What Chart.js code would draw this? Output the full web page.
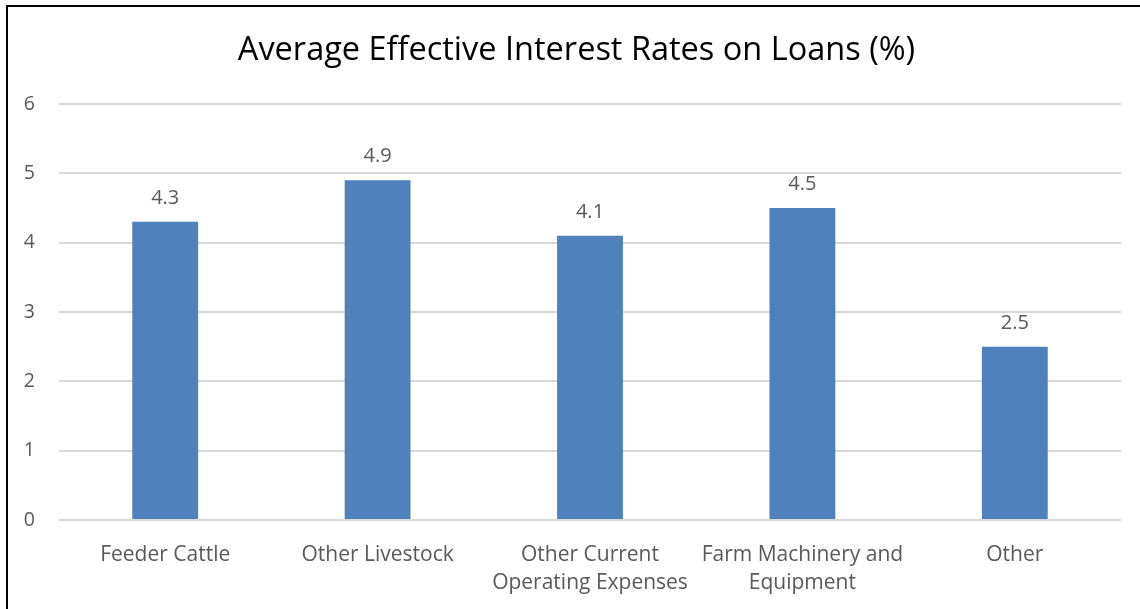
<!DOCTYPE html>
<html>
<head>
<meta charset="utf-8">
<script src="https://cdn.jsdelivr.net/npm/chart.js@4/dist/chart.umd.min.js"></script>
<style>
  html, body { margin: 0; padding: 0; background: #fff; overflow: hidden; width: 1140px; height: 609px; }
  #frame {
    position: absolute; left: 6px; top: 5px; width: 1400px; height: 800px;
    border-left: 2px solid #000; border-top: 2px solid #000;
  }
  #wrap { position: absolute; left: 0; top: 0; width: 1140px; height: 609px; }
</style>
</head>
<body>
<div id="frame"></div>
<div id="wrap"><canvas id="rateChart" width="1140" height="609"></canvas></div>
<script>
// data
const chartTitle = 'Average Effective Interest Rates on Loans (%)';
const categories = [
    'Feeder Cattle',
    'Other Livestock',
    ['Other Current', 'Operating Expenses'],
    ['Farm Machinery and', 'Equipment'],
    'Other'
];
const rateValues = [4.3, 4.9, 4.1, 4.5, 2.5];
const yTicks = [0, 1, 2, 3, 4, 5, 6];

const FONT = '"Open Sans", sans-serif';
const TEXT_GRAY = '#595959';

// title is centred on the whole chart frame (not just the canvas box),
// so it is drawn here instead of through the title plugin
const frameTitle = {
    id: 'frameTitle',
    afterDraw(chart) {
        const ctx = chart.ctx;
        ctx.save();
        ctx.font = '32.5px ' + FONT;
        ctx.fillStyle = '#000';
        ctx.textAlign = 'center';
        ctx.textBaseline = 'middle';
        ctx.fillText(chartTitle, 576.5, 50.5);
        ctx.restore();
    }
};

// labels on top of the bars
const barValueLabels = {
    id: 'barValueLabels',
    afterDatasetsDraw(chart) {
        const ctx = chart.ctx;
        const meta = chart.getDatasetMeta(0);
        ctx.save();
        ctx.font = '20px ' + FONT;
        ctx.fillStyle = TEXT_GRAY;
        ctx.textAlign = 'center';
        ctx.textBaseline = 'alphabetic';
        meta.data.forEach(function (bar, i) {
            ctx.fillText(rateValues[i].toFixed(1), bar.x, bar.y - 18);
        });
        ctx.restore();
    }
};

new Chart(document.getElementById('rateChart'), {
    type: 'bar',
    data: {
        labels: categories,
        datasets: [{
            label: 'Rate',
            data: rateValues,
            backgroundColor: '#4F81BD',
            borderWidth: 0,
            barPercentage: 0.31,
            categoryPercentage: 1
        }]
    },
    options: {
        responsive: false,
        animation: false,
        events: [],
        layout: { padding: { left: 0, right: 19, top: 104, bottom: 0 } },
        plugins: {
            legend: { display: false },
            tooltip: { enabled: false },
            title: { display: false }
        },
        scales: {
            x: {
                grid: { display: false },
                border: { display: false },
                ticks: {
                    color: TEXT_GRAY,
                    font: { family: FONT, size: 21, lineHeight: 1.33 },
                    maxRotation: 0,
                    autoSkip: false,
                    padding: 13
                },
                afterFit(scale) { scale.height = 89; }
            },
            y: {
                min: 0,
                max: 6,
                afterBuildTicks(scale) {
                    scale.ticks = yTicks.map(v => ({ value: v }));
                },
                grid: { color: '#D9D9D9', lineWidth: 2, drawTicks: false },
                border: { display: false },
                ticks: {
                    color: TEXT_GRAY,
                    font: { family: FONT, size: 19.5 },
                    padding: 24
                },
                afterFit(scale) { scale.width = 59; }
            }
        }
    },
    plugins: [barValueLabels, frameTitle]
});
</script>
</body>
</html>
